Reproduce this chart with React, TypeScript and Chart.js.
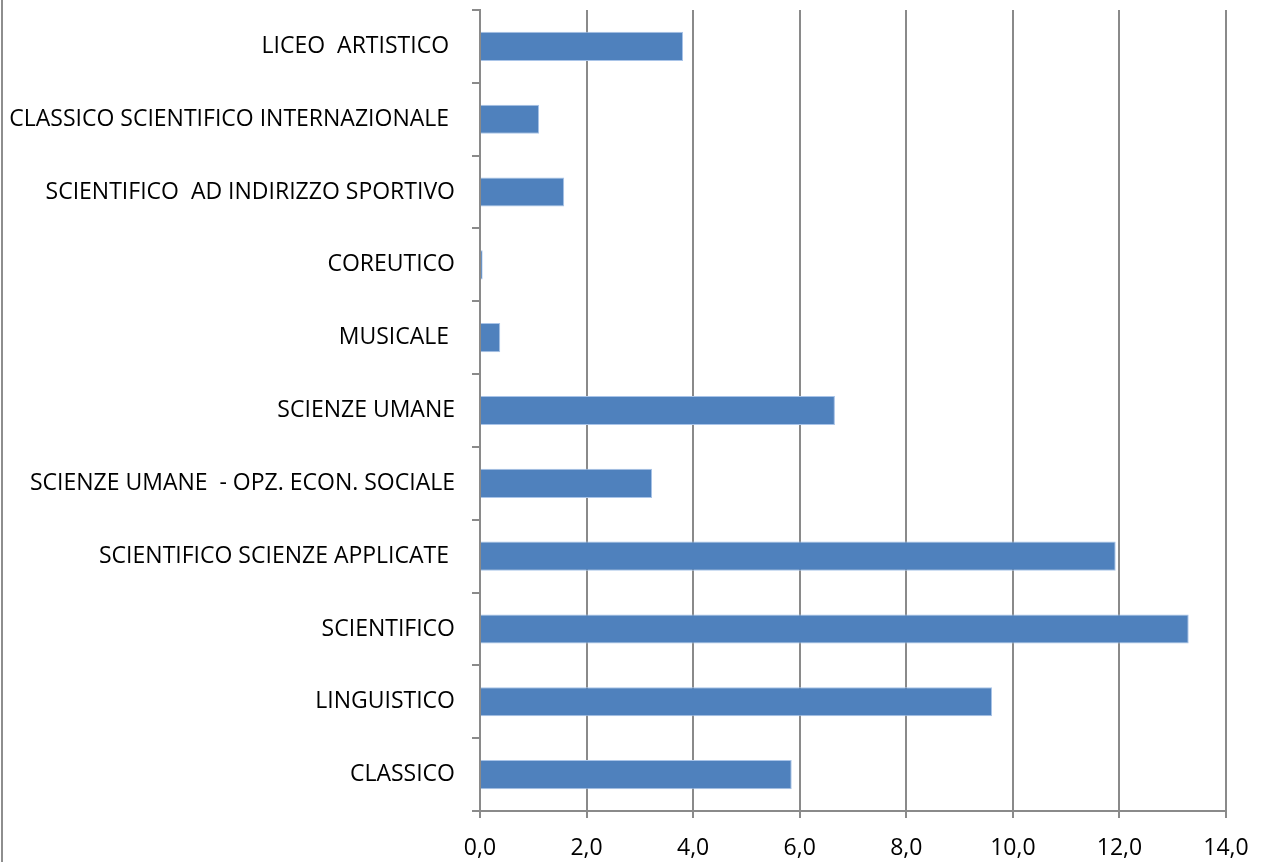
import React, { useEffect, useRef } from "react";
import { Chart, registerables } from "chart.js";

Chart.register(...registerables);

const categories = [
  "LICEO  ARTISTICO ",
  "CLASSICO SCIENTIFICO INTERNAZIONALE ",
  "SCIENTIFICO  AD INDIRIZZO SPORTIVO",
  "COREUTICO",
  "MUSICALE ",
  "SCIENZE UMANE",
  "SCIENZE UMANE  - OPZ. ECON. SOCIALE",
  "SCIENTIFICO SCIENZE APPLICATE ",
  "SCIENTIFICO",
  "LINGUISTICO",
  "CLASSICO",
];

const values = [3.81, 1.11, 1.58, 0.05, 0.38, 6.66, 3.23, 11.93, 13.3, 9.61, 5.85];

const xMin = 0;
const xMax = 14;
const xStep = 2;

export default function App() {
  const ref = useRef<HTMLCanvasElement | null>(null);

  useEffect(() => {
    document.body.style.margin = "0";
    const ctx = ref.current!;
    const chart = new Chart(ctx, {
      type: "bar",
      data: {
        labels: categories,
        datasets: [
          {
            data: values,
            backgroundColor: "#4F81BD",
            borderColor: "#A9C4E8",
            borderWidth: 1,
            borderSkipped: "start",
            categoryPercentage: 1,
            barPercentage: 0.4,
          },
        ],
      },
      options: {
        indexAxis: "y",
        animation: false,
        responsive: false,
        maintainAspectRatio: false,
        layout: { padding: { top: 10, right: 36, left: 0, bottom: 0 } },
        plugins: { legend: { display: false }, tooltip: { enabled: false } },
        scales: {
          x: {
            min: xMin,
            max: xMax,
            ticks: {
              stepSize: xStep,
              color: "#000",
              font: { family: "Open Sans", size: 23 },
              padding: 17,
              callback: (v: any) => Number(v).toFixed(1).replace(".", ","),
            },
            grid: { color: "#8a8a8a", lineWidth: 2, tickLength: 7 },
            border: { color: "#8a8a8a", width: 2 },
            afterFit: (s: any) => {
              s.height = 51;
              s.paddingLeft = 0;
              s.paddingRight = 0;
            },
          },
          y: {
            ticks: {
              color: "#000",
              font: { family: "Open Sans", size: 23 },
              padding: 17,
            },
            grid: { drawOnChartArea: false, offset: true, color: "#8a8a8a", lineWidth: 2, tickLength: 8 },
            border: { color: "#8a8a8a", width: 2 },
            afterFit: (s: any) => {
              s.width = 480;
              s.paddingTop = 0;
              s.paddingBottom = 0;
            },
          },
        },
      },
    });
    return () => chart.destroy();
  }, []);

  return (
    <div style={{ position: "relative", width: 1262, height: 862, background: "#fff" }}>
      <div style={{ position: "absolute", left: 1, top: 0, width: 2, height: 862, background: "#8e8e8e" }} />
      <canvas ref={ref} width={1262} height={862} style={{ display: "block" }} />
    </div>
  );
}
